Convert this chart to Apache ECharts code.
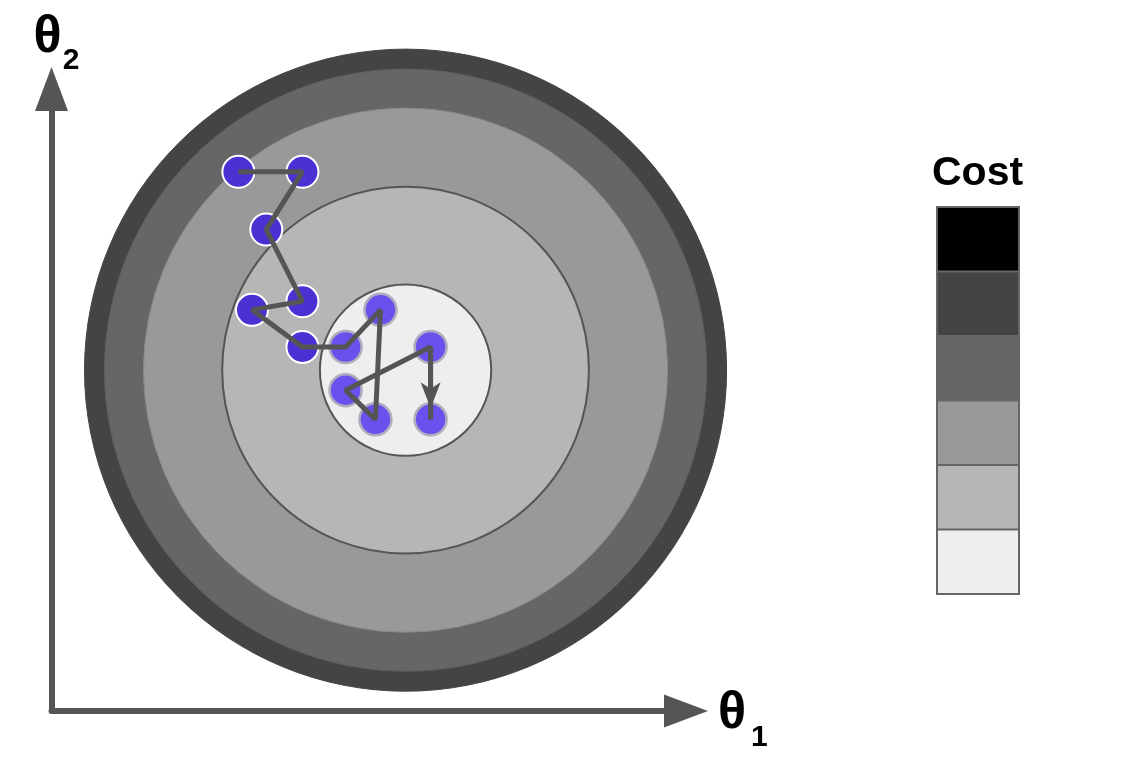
<!DOCTYPE html>
<html>
<head>
<meta charset="utf-8">
<title>Gradient descent on cost contours</title>
<script src="https://cdn.jsdelivr.net/npm/echarts@6/dist/echarts.min.js"></script>
<style>
  html, body { margin: 0; padding: 0; background: #ffffff; }
  #chart { width: 1133px; height: 759px; }
</style>
</head>
<body>
<div id="chart"></div>
<script>
// cost contours: centre, radius and cost level of each filled ring (outer -> inner)
const ringCenter = [11.16, 10.74];
const ringRadius = [10.12, 9.49, 8.26, 5.78, 2.7];
const ringCost = [5, 4, 3, 2, 1];

// colour scale for the cost levels (low -> high)
const costLevels = [1, 2, 3, 4, 5, 6];
const costColors = ["#eeeeee", "#b6b6b6", "#999999", "#666666", "#444444", "#000000"];

// gradient descent steps, in the order they are taken
const theta1 = [5.89, 7.91, 6.77, 7.91, 6.32, 7.91, 9.27, 10.37, 10.21, 9.27, 11.95, 11.95];
const theta2 = [16.99, 16.99, 15.17, 12.91, 12.64, 11.47, 11.47, 12.64, 9.19, 10.11, 11.47, 9.19];
const splitStep = 6; // steps before this index are the early (dark) ones

const ringStroke = ["#444444", "#5e5e5e", "#8a8a8a", "#555555", "#555555"];
const ringStrokeWidth = [1, 1, 1, 2, 2];

const steps = theta1.map((t, i) => [t, theta2[i]]);
const rings = ringRadius.map((r, i) => [ringCenter[0], ringCenter[1], r, ringCost[i]]);
const last = steps.length - 1;

const chart = echarts.init(document.getElementById("chart"), null, { renderer: "canvas" });

const axisLine = {
  show: true,
  onZero: false,
  symbol: ["none", "triangle"],
  symbolSize: [33, 44],
  lineStyle: { color: "#555555", width: 6 },
};

const nameRich = function (drop, subLeft) {
  return {
    t: { fontSize: 52, fontWeight: "bold", color: "#000", lineHeight: 56, padding: [0, 0, drop, 0] },
    s: { fontSize: 30, fontWeight: "bold", color: "#000", lineHeight: 30, verticalAlign: "bottom", padding: [0, 0, 0, subLeft] },
  };
};

chart.setOption({
  animation: false,
  textStyle: { fontFamily: "Liberation Sans, Arial, sans-serif" },
  title: {
    text: "Cost",
    left: 932,
    top: 153,
    padding: 0,
    textStyle: { fontSize: 41, fontWeight: "bold", color: "#000000" },
  },
  grid: {
    left: 51.5,
    right: 447,
    top: 89,
    bottom: 48,
    outerBoundsMode: "none",
  },
  xAxis: {
    type: "value",
    min: 0,
    max: 20,
    axisLine: axisLine,
    axisTick: { show: false },
    axisLabel: { show: false },
    splitLine: { show: false },
    name: "{t|θ}{s|1}",
    nameLocation: "end",
    nameGap: 32,
    nameTextStyle: {
      padding: [28, 0, 0, 0],
      rich: nameRich(23, 5),
    },
  },
  yAxis: {
    type: "value",
    min: 0,
    max: 19.6,
    axisLine: axisLine,
    axisTick: { show: false },
    axisLabel: { show: false },
    splitLine: { show: false },
    name: "{t|θ}{s|2}",
    nameLocation: "end",
    nameGap: 13,
    nameTextStyle: {
      padding: [0, 0, 0, 10],
      rich: nameRich(20, 1),
    },
  },
  visualMap: {
    type: "piecewise",
    seriesIndex: 0,
    dimension: 3,
    pieces: costLevels.map((v, i) => ({ value: v, color: costColors[i] })),
    orient: "vertical",
    itemSymbol: "rect",
    itemWidth: 80,
    itemHeight: 62.5,
    itemGap: 2,
    showLabel: false,
    selectedMode: false,
    hoverLink: false,
    left: 936,
    top: 206,
    padding: 2,
    backgroundColor: "#666666",
  },
  series: [
    {
      type: "custom",
      z: 1,
      silent: true,
      dimensions: ["t1", "t2", "r", "cost"],
      encode: { x: 0, y: 1 },
      data: rings,
      renderItem: function (params, api) {
        const c = api.coord([api.value(0), api.value(1)]);
        const r = api.size([api.value(2), 0])[0];
        return {
          type: "circle",
          shape: { cx: c[0], cy: c[1], r: r },
          style: {
            fill: api.visual("color"),
            stroke: ringStroke[params.dataIndex],
            lineWidth: ringStrokeWidth[params.dataIndex],
          },
        };
      },
    },
    {
      type: "scatter",
      z: 3,
      silent: true,
      symbolSize: 32,
      data: steps.slice(0, splitStep),
      itemStyle: { color: "#4b31d4", borderColor: "#ffffff", borderWidth: 2, opacity: 1 },
    },
    {
      type: "scatter",
      z: 3,
      silent: true,
      symbolSize: 32,
      data: steps.slice(splitStep),
      itemStyle: { color: "#6a51ee", borderColor: "#aeadbd", borderWidth: 2.5, opacity: 1 },
    },
    {
      type: "line",
      z: 4,
      silent: true,
      symbol: "none",
      data: steps,
      lineStyle: { color: "#555555", width: 5 },
      markLine: {
        silent: true,
        symbol: ["none", "arrow"],
        symbolSize: [15, 26],
        symbolOffset: [0, [0, 11]],
        label: { show: false },
        lineStyle: { color: "#555555", width: 5, type: "solid" },
        data: [[{ coord: steps[last - 1] }, { coord: steps[last] }]],
      },
    },
  ],
});

window.onresize = function () {
  chart.resize();
};
</script>
</body>
</html>
